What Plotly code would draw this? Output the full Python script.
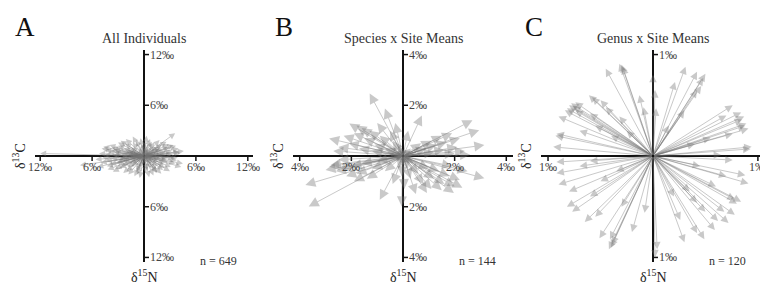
import plotly.graph_objects as go

W, H = 760, 286

# ---------------- data (arrow tips: change in d13C, change in d15N) ----------------
# Panel A: All Individuals (n = 649), representative subset
a_d13c = [-12.0, -7.4, 3.6, -4.9, -1.3, 0.9, 4.2, 3.8, -0.5, -3.6, 2.2, -5.6, -5.2, 4.5, 4.0,
          -4.1, -3.8, -3.5, -3.2, -3.0, -2.8, -2.6, -2.4, -2.2, -2.0, -1.9, -1.7, -1.5, -1.4, -1.2,
          -1.0, -0.9, -0.8, -0.6, -0.5, -0.3, -0.2, 0.1, 0.2, 0.4, 0.5, 0.7, 0.8, 1.0, 1.2,
          1.3, 1.5, 1.7, 1.9, 2.1, 2.3, 2.5, 2.7, 2.9, 3.1, 3.3, 3.5, 2.6, -2.7, -3.9,
          -4.4, -4.6, -3.3, -1.8, 1.1, 0.3, -0.4, 1.8, 3.0, -4.0, -2.1, 2.0, -1.1, 0.6, 4.1,
          -4.8, 3.4, -3.4, -2.9, -2.3, -1.6, -0.7, -0.1, 0.3, 0.9, 1.4, 2.2, 2.8, -3.6, -2.5,
          -1.3, 0.0, 1.6, 2.4, -0.9, -4.3, -3.7, 1.2, 2.0, 3.9, -5.0, -2.0, -1.0, 0.5, 1.0,
          -0.3, 0.8, -1.5, -2.7, 1.7, 2.6, 3.2, -3.1, -0.6, 0.2, -1.9, 1.3,
          -5.4, -4.7, -4.2, 4.3, 4.6, 3.7, -2.4, 1.9, -0.8, 0.4, -3.0, 2.9, -4.5, 3.6, -1.7, 1.5]
a_d15n = [0.3, -1.1, 2.7, 0.9, 2.3, 1.7, 0.35, -0.5, -2.6, -1.85, -1.65, -0.4, 0.3, -0.9, 0.9,
          0.5, -0.3, 0.8, -0.9, 1.2, -1.4, 0.2, -0.6, 1.5, -1.8, 0.7, -0.2, 1.0, -1.2, 0.4,
          -0.7, 1.9, -1.6, 0.9, -0.4, 1.4, -1.1, 0.6, -2.0, 1.2, -0.8, 2.0, -1.4, 0.3, -0.5,
          1.1, -1.9, 0.8, -0.3, 1.4, -1.0, 0.5, -0.7, 1.0, -1.3, 0.2, -0.2, 1.7, 1.8, -1.0,
          -0.6, 0.1, -1.5, -2.2, -2.3, 2.4, 2.1, 1.9, -1.8, 1.3, 2.0, -2.1, -2.4, -2.5, 0.5,
          -0.2, 1.3, 0.4, -0.4, 0.9, -0.9, 0.2, -0.3, 0.2, -0.2, 0.4, 0.1, -0.1, 0.1, -1.1,
          1.6, 1.7, -1.2, -1.4, -1.9, -1.2, 1.0, 1.6, 0.8, -0.2, -0.8, 0.4, -0.2, 0.5, -0.9,
          -0.6, 0.9, 0.1, -0.2, -0.7, -0.4, 0.6, -0.7, -1.3, 1.0, -1.3, -1.6,
          -1.3, 1.1, -1.6, -1.3, 0.6, 1.2, -2.0, 1.1, -2.2, -1.7, 1.6, 1.4, 0.7, -0.9, 0.5, -2.0]

# Panel B: Species x Site Means (n = 144)
b_d13c = [-1.29, -0.7, 0.73, 2.69, 2.95, 3.15, 3.15, -3.65, -3.78, -2.86, -2.86, -2.08, -1.8, -0.9, -0.05,
          0.93, 1.97, -0.5, 0.2,
          0.9, 1.1, 1.3, 1.5, 1.7, 1.9, 2.1, 2.2, 2.4, 1.2, 0.7, 1.6, 2.0, 2.6,
          1.0, 1.2, 1.4, 1.6, 1.8, 2.0, 2.2, 2.3, 1.5, 0.8, 0.6, 1.1, 2.5, 0.5, 0.3, 1.9,
          -2.8, -2.6, -2.4, -2.2, -2.0, -1.8, -1.6, -1.4, -1.2, -1.0, -2.5, -3.0, -1.9, -0.7, -0.4, -0.2,
          -2.3, -2.1, -1.9, -1.7, -1.5, -1.3, -1.1, -0.9, -0.7, -2.5, -1.6, -1.2, -0.4, -0.3, -2.7, -1.0,
          0.3, -0.3, 0.4, -0.5, 0.2, 0.5, -0.2, 0.1, 0.05, -0.05]
b_d15n = [2.46, 1.87, 1.6, 1.41, 1.02, 0.43, -0.88, -1.99, -1.14, -0.42, 0.69, 1.28, 1.2, -1.73, -1.99,
          -1.46, -1.46, 1.0, 1.0,
          0.3, 0.6, 0.45, 0.8, 0.55, 0.9, 0.35, 0.7, 0.2, 0.15, 0.5, 0.25, 0.1, 0.05,
          -0.5, -0.9, -0.6, -1.1, -0.8, -1.2, -0.95, -1.25, -1.35, -1.1, -0.7, -1.3, -0.6, -1.5, -0.9, -0.4,
          -0.35, -0.6, -0.5, -0.8, -0.4, -0.7, -0.3, -0.9, -0.5, -0.2, -0.15, -0.55, -1.0, -0.6, -1.1, -0.5,
          0.8, 0.5, 0.9, 0.3, 0.7, 1.0, 0.45, 0.8, 0.3, 0.35, 1.1, 0.2, 0.6, 1.3, 0.2, 1.3,
          0.3, -0.2, -0.3, 0.1, -0.5, 0.15, 0.4, 0.2, -1.3, -0.8]

# Panel C: Genus x Site Means (n = 120)
c_d13c = [-0.45, -0.32, -0.30, -0.29, -0.13, -0.09, -0.84, -0.80, -0.78, -0.76, -0.74, -0.74, -0.61, -0.58,
          -0.45, -0.32, -0.90, -0.92, -0.93, -0.95, -0.70, -0.55, -0.40, -0.60, -0.50, -0.82, -0.25,
          0.02, 0.03, 0.21, 0.31, 0.42, 0.50, 0.42, 0.46, 0.48, 0.76, 0.84, 0.87, 0.89, 0.91, 0.76,
          0.94, 0.93, 0.65, 0.85, 0.88, 0.55, 0.40, 0.70, 0.30, 0.15, 0.0,
          0.76, 0.88, 0.91, 0.78, 0.84, 0.80, 0.78, 0.68, 0.72, 0.62, 0.59, 0.49, 0.42, 0.26, 0.42,
          0.04, 0.02, 0.60, 0.35, 0.50, 0.20, 0.70, 0.45, 0.30,
          -0.08, -0.42, -0.51, -0.41, -0.39, -0.40, -0.77, -0.82, -0.90, -0.92, -0.92, -0.60, -0.50,
          -0.70, -0.30, -0.35, -0.20, -0.65, -0.55, -0.80, -0.60]
c_d15n = [0.86, 0.91, 0.90, 0.88, 0.60, 0.48, 0.45, 0.50, 0.52, 0.49, 0.53, 0.45, 0.60, 0.58,
          0.48, 0.39, 0.39, 0.22, 0.20, 0.09, 0.25, 0.30, 0.20, 0.42, 0.55, 0.47, 0.25,
          0.65, 0.47, 0.73, 0.88, 0.83, 0.81, 0.65, 0.69, 0.77, 0.50, 0.43, 0.39, 0.32, 0.27, 0.22,
          0.09, 0.07, 0.01, 0.36, 0.30, 0.18, 0.12, 0.40, 0.45, 0.30, 0.80,
          -0.04, -0.19, -0.27, -0.43, -0.45, -0.47, -0.58, -0.55, -0.66, -0.64, -0.73, -0.82, -0.76, -0.63, -0.46,
          -0.92, -1.00, -0.30, -0.35, -0.55, -0.40, -0.20, -0.10, -0.85,
          -0.56, -0.92, -0.81, -0.82, -0.87, -0.90, -0.55, -0.50, -0.28, -0.17, -0.06, -0.40, -0.25,
          -0.10, -0.50, -0.15, -0.75, -0.65, -0.60, -0.35, -0.05]

titles = ["All Individuals", "Species x Site Means", "Genus x Site Means"]
letters = ["A", "B", "C"]
n_labels = ["n = 649", "n = 144", "n = 120"]
tick_vals = [[6, 12], [2, 4], [1]]
limits = [12, 4, 1]

# ---------------- layout geometry (pixels) ----------------
panels = [
    dict(left=35, right=253, center=144, xr=(-12.6, 12.6), head=1.2, dx=a_d13c, dy=a_d15n),
    dict(left=293, right=513, center=403, xr=(-4.26, 4.26), head=2.0, dx=b_d13c, dy=b_d15n),
    dict(left=541, right=760, center=653, xr=(-1.067, 1.02), head=1.5, dx=c_d13c, dy=c_d15n),
]
y_top, y_bot, y_mid = 50, 262, 156
SERIF = "Liberation Serif, Times New Roman, serif"
ARROW = "rgba(115,115,115,0.38)"

fig = go.Figure()
annotations = []
shapes = []
layout_axes = {}

for i, p in enumerate(panels):
    k = "" if i == 0 else str(i + 1)
    xa, ya = "x" + k, "y" + k
    L = limits[i]
    yr = 1.045 * L
    layout_axes["xaxis" + k] = dict(
        domain=[p["left"] / W, min(p["right"] / W, 1.0)], range=list(p["xr"]), anchor=ya,
        showgrid=False, showticklabels=False, ticks="", showline=False,
        zeroline=True, zerolinecolor="#111", zerolinewidth=2, fixedrange=True)
    layout_axes["yaxis" + k] = dict(
        domain=[(H - y_bot) / H, (H - y_top) / H], range=[-yr, yr], anchor=xa,
        showgrid=False, showticklabels=False, ticks="", showline=False,
        zeroline=True, zerolinecolor="#111", zerolinewidth=2, fixedrange=True)

    fig.add_trace(go.Scatter(x=p["dx"], y=p["dy"], xaxis=xa, yaxis=ya, mode="markers",
                             marker=dict(size=1, opacity=0), hoverinfo="skip", showlegend=False))

    for xv, yv in zip(p["dx"], p["dy"]):
        annotations.append(dict(
            x=xv, y=yv, ax=0, ay=0, xref=xa, yref=ya, axref=xa, ayref=ya,
            text="", showarrow=True, arrowhead=2, arrowsize=p["head"], arrowwidth=1,
            arrowcolor=ARROW, standoff=0, startstandoff=0))

    for t in tick_vals[i]:
        lab = f"{t}\u2030"
        for s in (-1, 1):
            shapes.append(dict(type="line", xref=xa, yref=ya, x0=s * t, x1=s * t,
                               ysizemode="pixel", yanchor=0, y0=0, y1=-5,
                               line=dict(color="#111", width=1.5)))
            shapes.append(dict(type="line", xref=xa, yref=ya, y0=s * t, y1=s * t,
                               xsizemode="pixel", xanchor=0, x0=0, x1=5,
                               line=dict(color="#111", width=1.5)))
            annotations.append(dict(x=s * t, y=0, xref=xa, yref=ya, text=lab, showarrow=False,
                                    xanchor="center", yanchor="top", yshift=-2,
                                    font=dict(family=SERIF, size=12, color="#444")))
            annotations.append(dict(x=0, y=s * t, xref=xa, yref=ya, text=lab, showarrow=False,
                                    xanchor="left", yanchor="middle", xshift=4,
                                    font=dict(family=SERIF, size=12, color="#444")))

    cx = p["center"] / W
    annotations.append(dict(x=cx, y=(H - 38) / H, xref="paper", yref="paper", text=titles[i],
                            showarrow=False, xanchor="center", yanchor="middle",
                            font=dict(family=SERIF, size=14, color="#333")))
    annotations.append(dict(x=(p["center"] - 119) / W, y=(H - 27) / H, xref="paper", yref="paper",
                            text=letters[i], showarrow=False, xanchor="center", yanchor="middle",
                            font=dict(family=SERIF, size=27, color="#111")))
    annotations.append(dict(x=(p["left"] - 16) / W, y=(H - y_mid) / H, xref="paper", yref="paper",
                            text="\u03b4<sup>13</sup>C", textangle=-90, showarrow=False,
                            xanchor="center", yanchor="middle",
                            font=dict(family=SERIF, size=14, color="#222")))
    annotations.append(dict(x=cx, y=(H - 276) / H, xref="paper", yref="paper",
                            text="\u03b4<sup>15</sup>N", showarrow=False,
                            xanchor="center", yanchor="middle",
                            font=dict(family=SERIF, size=14, color="#222")))
    annotations.append(dict(x=(p["center"] + 74) / W, y=(H - 261) / H, xref="paper", yref="paper",
                            text=n_labels[i], showarrow=False, xanchor="center", yanchor="middle",
                            font=dict(family=SERIF, size=12, color="#333")))

fig.update_layout(
    width=W, height=H, margin=dict(l=0, r=0, t=0, b=0),
    paper_bgcolor="white", plot_bgcolor="rgba(0,0,0,0)",
    showlegend=False, annotations=annotations, shapes=shapes, **layout_axes)

fig.write_html("out.html", config={"displayModeBar": False, "staticPlot": True},
               post_script="document.body.style.margin='0';document.body.style.padding='0';")
